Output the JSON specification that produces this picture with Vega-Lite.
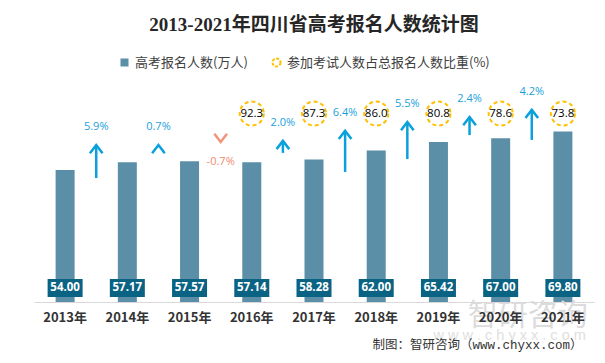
{
  "$schema": "https://vega.github.io/schema/vega-lite/v6.json",
  "width": 560,
  "height": 220,
  "autosize": {"type": "none"},
  "padding": {"left": 34, "top": 82, "right": 11, "bottom": 61},
  "background": "white",
  "title": {
    "text": "2013-2021年四川省高考报名人数统计图",
    "font": "Liberation Serif, Noto Sans CJK SC",
    "fontSize": 19,
    "fontWeight": "bold",
    "color": "#262626",
    "anchor": "middle",
    "offset": 21
  },
  "datasets": {
    "years": [
      {"year": "2013年", "applicants": 54.00, "ratio": null},
      {"year": "2014年", "applicants": 57.17, "ratio": null},
      {"year": "2015年", "applicants": 57.57, "ratio": null},
      {"year": "2016年", "applicants": 57.14, "ratio": 92.3},
      {"year": "2017年", "applicants": 58.28, "ratio": 87.3},
      {"year": "2018年", "applicants": 62.00, "ratio": 86.0},
      {"year": "2019年", "applicants": 65.42, "ratio": 80.8},
      {"year": "2020年", "applicants": 67.00, "ratio": 78.6},
      {"year": "2021年", "applicants": 69.80, "ratio": 73.8}
    ],
    "growth": [
      {"year": "2013年", "rate": 5.9, "label": "5.9%", "lo": 50.7, "hi": 64.2},
      {"year": "2014年", "rate": 0.7, "label": "0.7%", "lo": 64.2, "hi": 64.2},
      {"year": "2015年", "rate": -0.7, "label": "-0.7%", "lo": 65.5, "hi": 65.5},
      {"year": "2016年", "rate": 2.0, "label": "2.0%", "lo": 61.0, "hi": 65.9},
      {"year": "2017年", "rate": 6.4, "label": "6.4%", "lo": 53.2, "hi": 70.0},
      {"year": "2018年", "rate": 5.5, "label": "5.5%", "lo": 58.5, "hi": 73.6},
      {"year": "2019年", "rate": 2.4, "label": "2.4%", "lo": 68.3, "hi": 75.7},
      {"year": "2020年", "rate": 4.2, "label": "4.2%", "lo": 66.3, "hi": 78.6}
    ]
  },
  "encoding": {
    "x": {
      "field": "year",
      "type": "ordinal",
      "sort": null,
      "scale": {"type": "band", "paddingInner": 0, "paddingOuter": 0, "domain": ["2013年","2014年","2015年","2016年","2017年","2018年","2019年","2020年","2021年"]},
      "axis": {
        "title": "制图：智研咨询（www.chyxx.com）",
        "titleFont": "Liberation Mono, Noto Sans CJK SC",
        "titleFontSize": 12.5,
        "titleFontWeight": "normal",
        "titleColor": "#333333",
        "titleAlign": "right",
        "titleAnchor": "end",
        "titleX": 548,
        "titlePadding": 14,
        "labelAngle": 0,
        "labelFont": "Noto Sans CJK SC",
        "labelFontSize": 13,
        "labelFontWeight": "bold",
        "labelColor": "#333333",
        "labelPadding": 9,
        "ticks": false,
        "grid": false,
        "domainColor": "#d9d9d9",
        "domainWidth": 1,
        "zindex": 1
      }
    }
  },
  "layer": [
    {
      "data": {"name": "years"},
      "mark": {"type": "bar", "width": 19},
      "encoding": {
        "y": {"field": "applicants", "type": "quantitative", "scale": {"domain": [0, 90]}, "axis": null},
        "color": {
          "datum": "高考报名人数(万人)",
          "scale": {"range": ["#5b8fa8"]},
          "legend": {
            "orient": "none",
            "direction": "horizontal",
            "legendX": 84,
            "legendY": -26,
            "title": null,
            "labelFont": "Noto Sans CJK SC",
            "labelFontSize": 13,
            "labelColor": "#404040",
            "labelOffset": 4,
            "labelLimit": 300,
            "symbolSize": 64,
            "symbolType": "square"
          }
        }
      }
    },
    {
      "data": {"name": "years"},
      "transform": [{"filter": "datum.year === '2020年'"}],
      "mark": {"type": "text", "text": "智研咨询", "font": "Noto Sans CJK SC", "fontSize": 30, "color": "#dcdcdc", "dx": 27, "align": "center", "baseline": "middle"},
      "encoding": {
        "y": {"datum": -5.6}
      }
    },
    {
      "data": {"name": "years"},
      "transform": [{"filter": "datum.year === '2020年'"}],
      "mark": {"type": "text", "text": "w w w . c h y x x . c o m", "font": "Liberation Sans", "fontSize": 14.5, "color": "#e0e0e0", "dx": 9, "align": "center", "baseline": "middle"},
      "encoding": {
        "y": {"datum": -14}
      }
    },
    {
      "data": {"name": "years"},
      "mark": {"type": "bar", "width": 35, "color": "#0b6384"},
      "encoding": {
        "y": {"datum": 2.05},
        "y2": {"datum": 9.4}
      }
    },
    {
      "data": {"name": "years"},
      "mark": {"type": "text", "font": "Open Sans", "fontSize": 11.5, "fontWeight": "bold", "color": "white", "baseline": "middle"},
      "encoding": {
        "y": {"datum": 5.75},
        "text": {"field": "applicants", "type": "quantitative", "format": ".2f"}
      }
    },
    {
      "data": {"name": "years"},
      "transform": [{"filter": "datum.ratio != null"}],
      "mark": {"type": "point", "shape": "circle", "size": 580, "filled": false, "strokeWidth": 2, "strokeDash": [4, 3], "opacity": 1},
      "encoding": {
        "y": {"datum": 77.1},
        "stroke": {
          "datum": "参加考试人数占总报名人数比重(%)",
          "scale": {"range": ["#ffc000"]},
          "legend": {
            "orient": "none",
            "direction": "horizontal",
            "legendX": 236,
            "legendY": -26,
            "title": null,
            "labelFont": "Noto Sans CJK SC",
            "labelFontSize": 13,
            "labelColor": "#404040",
            "labelOffset": 4,
            "labelLimit": 300,
            "symbolSize": 64,
            "symbolType": "circle",
            "symbolStrokeWidth": 2,
            "symbolDash": [3, 1.5]
          }
        }
      }
    },
    {
      "data": {"name": "years"},
      "transform": [{"filter": "datum.ratio != null"}],
      "mark": {"type": "text", "font": "Open Sans", "fontSize": 11.5, "color": "#000000", "baseline": "middle"},
      "encoding": {
        "y": {"datum": 77.1},
        "text": {"field": "ratio", "type": "quantitative", "format": ".1f"}
      }
    },
    {
      "data": {"name": "growth"},
      "mark": {"type": "rule", "strokeWidth": 2.5, "strokeCap": "butt"},
      "encoding": {
        "x": {"field": "year", "type": "ordinal", "bandPosition": 1},
        "y": {"field": "lo", "type": "quantitative"},
        "y2": {"field": "hi"},
        "color": {"condition": {"test": "datum.rate < 0", "value": "#f4937b"}, "value": "#0aa0dc"}
      }
    },
    {
      "data": {"name": "growth"},
      "transform": [{"filter": "datum.rate >= 0"}],
      "mark": {"type": "point", "filled": false, "shape": "M-1,1.3L0,0L1,1.3", "size": 160, "strokeWidth": 2.5, "strokeJoin": "miter", "strokeCap": "butt", "opacity": 1, "color": "#0aa0dc"},
      "encoding": {
        "x": {"field": "year", "type": "ordinal", "bandPosition": 1},
        "y": {"field": "hi", "type": "quantitative"}
      }
    },
    {
      "data": {"name": "growth"},
      "transform": [{"filter": "datum.rate < 0"}],
      "mark": {"type": "point", "filled": false, "shape": "M-1,-1.3L0,0L1,-1.3", "size": 160, "strokeWidth": 2.5, "strokeJoin": "miter", "strokeCap": "butt", "opacity": 1, "color": "#f4937b"},
      "encoding": {
        "x": {"field": "year", "type": "ordinal", "bandPosition": 1},
        "y": {"field": "hi", "type": "quantitative"}
      }
    },
    {
      "data": {"name": "growth"},
      "transform": [{"filter": "datum.rate >= 0"}],
      "mark": {"type": "text", "font": "Open Sans", "fontSize": 11, "color": "#1a9fdc", "baseline": "middle", "dy": -18},
      "encoding": {
        "x": {"field": "year", "type": "ordinal", "bandPosition": 1},
        "y": {"field": "hi", "type": "quantitative"},
        "text": {"field": "label"}
      }
    },
    {
      "data": {"name": "growth"},
      "transform": [{"filter": "datum.rate < 0"}],
      "mark": {"type": "text", "font": "Open Sans", "fontSize": 11, "color": "#f08c72", "baseline": "middle", "dy": 20},
      "encoding": {
        "x": {"field": "year", "type": "ordinal", "bandPosition": 1},
        "y": {"field": "hi", "type": "quantitative"},
        "text": {"field": "label"}
      }
    }
  ],
  "config": {
    "view": {"stroke": null}
  }
}
